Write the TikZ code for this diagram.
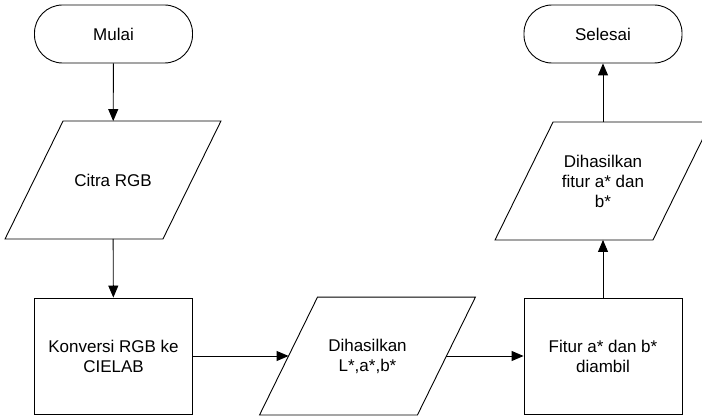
\documentclass[tikz,border=0pt]{standalone}
\usepackage{fontspec}
\setsansfont{Liberation Sans}
\usepackage{tikz}
\usetikzlibrary{shapes.geometric, positioning, arrows.meta}
\tikzset{
  terminator/.style={rectangle, rounded corners=28pt, minimum width=158pt, minimum height=58pt, text centered, draw=black},
  proses/.style={rectangle, minimum width=158pt, minimum height=116pt, text centered, draw=black},
  inout/.style={rectangle, minimum width=157pt, minimum height=117pt, inner sep=1pt, text centered},
  arrow/.style={-{Triangle[length=12pt, width=10pt]}}
}

\begin{document}
\begin{tikzpicture}[x=1pt, y=1pt, line width=0.9pt,
  every node/.style={font=\sffamily\fontsize{17}{20}\selectfont, align=center}]

  \useasboundingbox (0,0) rectangle (702,416);

  % 1. Kolom kiri: mulai, citra masukan, konversi
  \node[terminator] (mulai) at (113.5, 382) {Mulai};
  \node[inout] (citra) at (113, 236) {Citra RGB};
  \node[proses] (konversi) at (113.5, 60) {Konversi RGB ke\\CIELAB};

  % 2. Baris bawah: hasil konversi dan ekstraksi fitur
  \node[inout] (hasillab) at (367.5, 60) {Dihasilkan\\L*,a*,b*};
  \node[proses] (fitur) at (603, 60) {Fitur a* dan b*\\diambil};

  % 3. Kolom kanan: hasil fitur dan selesai
  \node[inout] (hasilfitur) at (603, 235) {Dihasilkan\\fitur a* dan\\b*};
  \node[terminator] (selesai) at (603, 382) {Selesai};

  % Jajaran genjang untuk data masuk/keluar
  \foreach \n in {citra, hasillab, hasilfitur} {
    \draw ([xshift=-29pt]\n.south west) -- ([xshift=-29pt]\n.south east)
      -- ([xshift=29pt]\n.north east) -- ([xshift=29pt]\n.north west) -- cycle;
  }

  % 4. Panah penghubung
  \draw[arrow] (mulai) -- (citra);
  \draw[arrow] (citra) -- (konversi);
  \draw[arrow] (konversi) -- (hasillab);
  \draw[arrow] (hasillab) -- (fitur);
  \draw[arrow] (fitur) -- (hasilfitur);
  \draw[arrow] (hasilfitur) -- (selesai);

\end{tikzpicture}
\end{document}
